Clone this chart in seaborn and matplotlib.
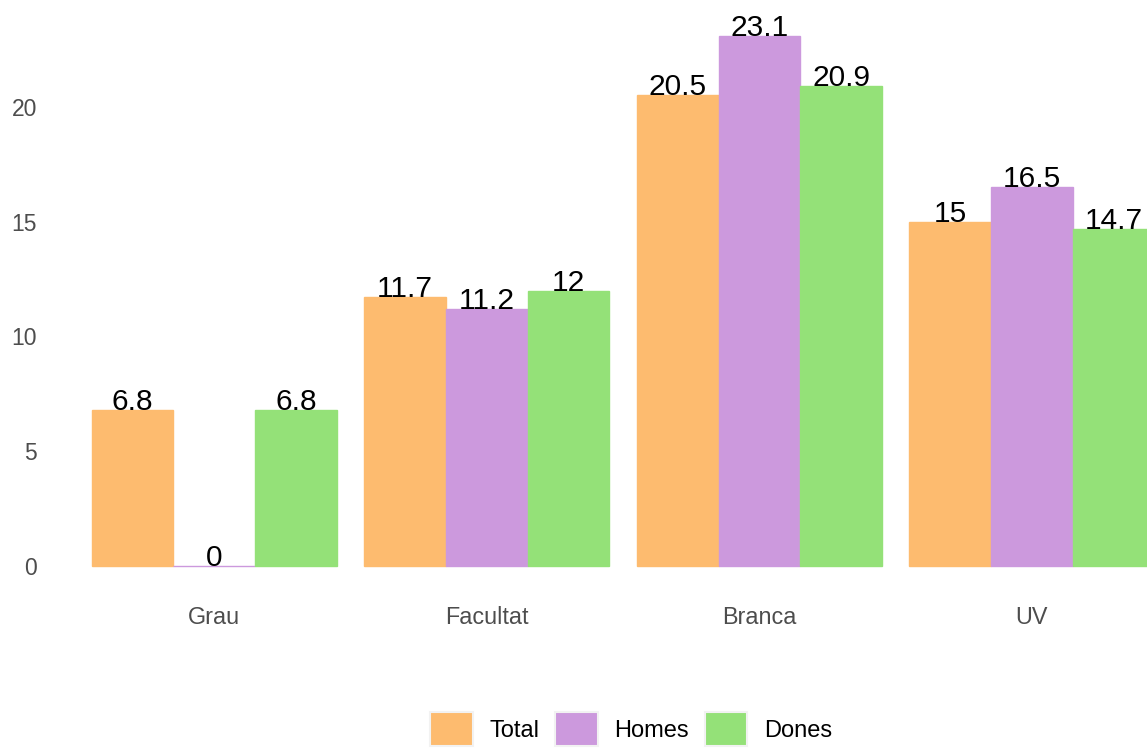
import matplotlib
matplotlib.use("Agg")
import matplotlib.pyplot as plt
from matplotlib.patches import Patch
import seaborn as sns
import pandas as pd

categories = ["Grau", "Facultat", "Branca", "UV"]
series = ["Total", "Homes", "Dones"]
total = [6.8, 11.7, 20.5, 15]
homes = [0, 11.2, 23.1, 16.5]
dones = [6.8, 12, 20.9, 14.7]
colors = ["#FDBB6F", "#CC99DD", "#94E178"]
yticks = [0, 5, 10, 15, 20]

rows = []
for name, vals in zip(series, [total, homes, dones]):
    for c, v in zip(categories, vals):
        rows.append({"cat": c, "serie": name, "val": v})
df = pd.DataFrame(rows)

sns.set_style("white")
plt.rcParams["font.family"] = ["Liberation Sans", "DejaVu Sans"]

W, H = 1147, 749
fig = plt.figure(figsize=(W / 100, H / 100), dpi=100)
# axes in pixel coordinates: left 78, right 1147, top 0, bottom 600
ax = fig.add_axes([78 / W, 1 - 600 / H, (W - 78) / W, 600 / H])

sns.barplot(data=df, x="cat", y="val", hue="serie", order=categories,
            hue_order=series, palette=colors, width=0.9, gap=0,
            saturation=1, ax=ax, legend=False, errorbar=None)

for p in ax.patches:
    p.set_edgecolor(p.get_facecolor())
    p.set_linewidth(1.0)
    h = p.get_height()
    if p.get_width() > 0:
        ax.text(p.get_x() + p.get_width() / 2, h, f"{h:g}",
                ha="center", va="baseline", fontsize=21.5, color="black")

ax.set_xlim(-0.5, 3 + (W - 1032) / 272.5)
ax.set_ylim(-1.48, 24.66)
ax.set_yticks(yticks)
ax.set_yticklabels([str(t) for t in yticks])
ax.tick_params(axis="y", length=0, pad=29.5, labelsize=16.5, labelcolor="#4D4D4D")
ax.tick_params(axis="x", length=0, pad=4.5, labelsize=16.8, labelcolor="#4D4D4D")
ax.set_xlabel("")
ax.set_ylabel("")
for s in ax.spines.values():
    s.set_visible(False)
ax.grid(False)

handles = [Patch(facecolor=c, edgecolor="#F2F2F2", linewidth=1.5, label=s)
           for c, s in zip(colors, series)]
leg = fig.legend(handles=handles, loc="center", bbox_to_anchor=(631 / W, 1 - 729 / H),
                 ncol=3, frameon=False, fontsize=17, handlelength=1.8, handleheight=1.8,
                 handletextpad=0.7, columnspacing=0.68, borderaxespad=0, borderpad=0)
for t in leg.get_texts():
    t.set_color("black")

fig.savefig("out.png", dpi=100)
